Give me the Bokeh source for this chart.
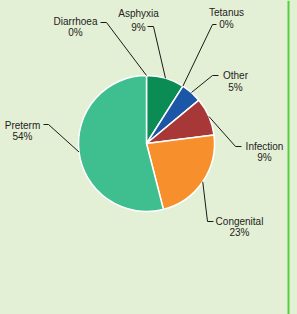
import math
from bokeh.plotting import figure
from bokeh.models import Range1d, Span, ColumnDataSource
from bokeh.core.properties import value
from bokeh.embed import file_html
from bokeh.resources import INLINE

# ---- data ----
causes = ["Diarrhoea", "Asphyxia", "Tetanus", "Other", "Infection", "Congenital", "Preterm"]
shares = [0, 9, 0, 5, 9, 23, 54]
colors = ["#2a9a6a", "#0b8c55", "#1c56a6", "#1c56a6", "#a83838", "#f7902c", "#3fbf8f"]

# ---- layout (screen pixels of a 297x314 page) ----
BG = "#e4f0d5"
CX, CY, R = 146, 143, 68
label_x = [75, 138, 226, 235, 264, 239, 22]
name_y = [21, 13, 12, 75, 146, 221, 125]
pct_y = [32, 27, 24, 87, 157, 232, 136]
bend = [(106, 22), (153, 26), (212, 24), (212, 75), (235, 146), (207, 221), (48, 124)]
tick_end = [(100, 22), (147, 26), (216, 24), (218, 75), (241, 146), (213, 221), (43, 124)]

p = figure(width=297, height=314, x_range=Range1d(0, 297), y_range=Range1d(-314, 0),
           output_backend="svg", toolbar_location=None, min_border=0,
           x_axis_location=None, y_axis_location=None)
p.grid.visible = False
p.outline_line_color = None
p.background_fill_color = BG
p.border_fill_color = BG

total = sum(shares)
cum = 0.0
ws, we, wc, mids = [], [], [], []
for s, c in zip(shares, colors):
    a0 = math.pi / 2 - 2 * math.pi * cum / total
    a1 = math.pi / 2 - 2 * math.pi * (cum + s) / total
    mids.append(math.pi / 2 - 2 * math.pi * (cum + s / 2) / total)
    if s > 0:
        ws.append(a0); we.append(a1); wc.append(c)
    cum += s

src = ColumnDataSource(dict(start=ws, end=we, color=wc))
p.wedge(x=CX, y=-CY, radius=R, start_angle="start", end_angle="end", direction="clock",
        fill_color="color", line_color="white", line_width=1.5, source=src)

xs, ys = [], []
for m, b, t in zip(mids, bend, tick_end):
    ax = CX + R * math.cos(m)
    ay = CY - R * math.sin(m)
    xs.append([ax, b[0], t[0]])
    ys.append([-ay, -b[1], -t[1]])
p.multi_line(xs=xs, ys=ys, line_color="#1a1a1a", line_width=1)

p.text(x=label_x, y=[-v for v in name_y], text=causes, text_align="center",
       text_baseline="alphabetic", text_font=value("Liberation Sans"),
       text_font_size="10px", text_color="#222222")
p.text(x=label_x, y=[-v for v in pct_y], text=[f"{v}%" for v in shares], text_align="center",
       text_baseline="alphabetic", text_font=value("Liberation Sans"),
       text_font_size="10px", text_color="#222222")

p.add_layout(Span(location=288, dimension="height", line_color="#55d040", line_width=2))

html = file_html(p, INLINE)
html = html.replace("</head>",
                    "<style>html,body{margin:0;padding:0;overflow:hidden;background:%s;}</style></head>" % BG, 1)
open("out.html", "w").write(html)
